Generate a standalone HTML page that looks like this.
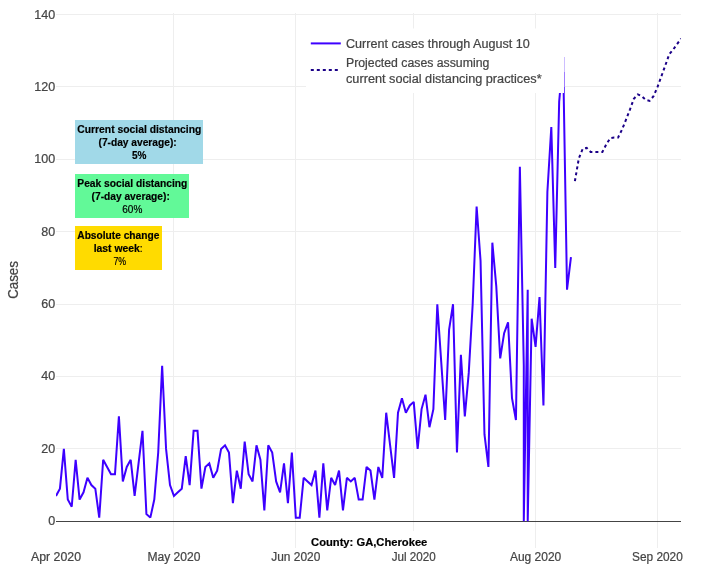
<!DOCTYPE html>
<html lang="en"><head><meta charset="utf-8"><title>County: GA,Cherokee</title>
<style>html,body{margin:0;padding:0;background:#fff}body{width:710px;height:583px;overflow:hidden}svg{display:block}text{font-family:'Liberation Sans', sans-serif;white-space:pre}.r text,text.r{stroke:#444;stroke-width:.22px;paint-order:stroke fill}.b text,text.b{stroke:#000;stroke-width:.18px;paint-order:stroke fill}</style>
</head><body>
<svg width="710" height="583" viewBox="0 0 710 583">
<rect width="710" height="583" fill="#fff"/>
<g fill="#eeeeee" shape-rendering="crispEdges">
<rect x="173" y="13" width="1" height="535"/>
<rect x="295" y="13" width="1" height="535"/>
<rect x="413" y="13" width="1" height="535"/>
<rect x="535" y="13" width="1" height="535"/>
<rect x="657" y="13" width="1" height="535"/>
<rect x="56" y="14" width="625" height="1"/>
<rect x="56" y="86" width="625" height="1"/>
<rect x="56" y="159" width="625" height="1"/>
<rect x="56" y="231" width="625" height="1"/>
<rect x="56" y="304" width="625" height="1"/>
<rect x="56" y="376" width="625" height="1"/>
<rect x="56" y="448" width="625" height="1"/>
</g>
<rect x="56" y="521" width="625" height="1" fill="#444" shape-rendering="crispEdges"/>
<defs><clipPath id="pc"><rect x="56" y="13" width="625" height="534"/></clipPath></defs>
<g clip-path="url(#pc)" fill="none" stroke-miterlimit="2">
<path d="M56.00,495.93L59.93,488.69L63.86,448.90L67.79,499.55L71.72,506.78L75.66,459.75L79.59,499.55L83.52,492.31L87.45,477.84L91.38,485.07L95.31,488.69L99.24,517.63L103.17,459.75L107.10,466.99L111.03,474.22L114.97,474.22L118.90,416.34L122.83,481.46L126.76,466.99L130.69,459.75L134.62,495.93L138.55,463.37L142.48,430.81L146.41,514.01L150.34,517.63L154.28,499.55L158.21,452.52L162.14,365.70L166.07,448.90L170.00,485.07L173.93,495.93L177.86,492.31L181.79,488.69L185.72,456.13L189.65,485.07L193.59,430.81L197.52,430.81L201.45,488.69L205.38,466.99L209.31,463.37L213.24,477.84L217.17,470.61L221.10,448.90L225.03,445.28L228.96,452.52L232.90,503.16L236.83,470.61L240.76,488.69L244.69,441.66L248.62,474.22L252.55,481.46L256.48,445.28L260.41,459.75L264.34,510.40L268.27,445.28L272.21,452.52L276.14,481.46L280.07,492.31L284.00,463.37L287.93,503.16L291.86,452.52L295.79,517.63L299.72,517.63L303.65,477.84L307.58,481.46L311.51,485.07L315.45,470.61L319.38,517.63L323.31,463.37L327.24,510.40L331.17,477.84L335.10,485.07L339.03,470.61L342.96,510.40L346.89,477.84L350.82,481.46L354.76,477.84L358.69,499.55L362.62,499.55L366.55,466.99L370.48,470.61L374.41,499.55L378.34,466.99L382.27,477.84L386.20,412.73L390.13,445.28L394.07,477.84L398.00,412.73L401.93,398.25L405.86,412.73L409.79,405.49L413.72,401.87L417.65,448.90L421.58,409.11L425.51,394.64L429.44,427.19L433.38,409.11L437.31,304.20L441.24,362.08L445.17,419.96L449.10,329.52L453.03,304.20L456.96,452.52L460.89,354.85L464.82,416.34L468.75,372.93L472.69,304.20L476.62,206.53L480.55,260.79L484.48,434.43L488.41,466.99L492.34,242.70L496.27,286.11L500.20,358.46L504.13,333.14L508.06,322.29L512.00,398.25L515.93,419.96L519.86,166.73L523.79,365.70L523.79,521.25L527.72,289.73L527.72,521.25L531.65,318.67L535.58,346.89L539.51,296.97L543.44,405.49L547.38,192.06L551.31,126.94L555.24,268.02L559.17,101.62L563.10,58.21L567.03,289.73L570.96,257.17" stroke="#3d00ff" stroke-width="2"/>
<path d="M574.89,181.20L578.82,158.41L582.75,148.65L586.69,147.92L590.62,151.90L594.55,151.90L598.48,151.90L602.41,151.90L606.34,144.31L610.27,138.16L614.20,137.43L618.13,137.43L622.06,129.47L626.00,119.71L629.93,109.58L633.86,98.73L637.79,94.38L641.72,96.19L645.65,99.81L649.58,100.90L653.51,96.19L657.44,87.15L661.37,76.30L665.31,65.44L669.24,54.23L673.17,49.53L677.10,44.10L681.03,38.68" stroke="#1b0088" stroke-width="2" stroke-dasharray="3,3"/>
</g>
<g class="r" font-size="12" fill="#444" text-anchor="end">
<text x="55.2" y="525.0" textLength="7.0" lengthAdjust="spacingAndGlyphs">0</text>
<text x="55.2" y="452.6" textLength="13.9" lengthAdjust="spacingAndGlyphs">20</text>
<text x="55.2" y="380.2" textLength="13.9" lengthAdjust="spacingAndGlyphs">40</text>
<text x="55.2" y="307.9" textLength="13.9" lengthAdjust="spacingAndGlyphs">60</text>
<text x="55.2" y="235.5" textLength="13.9" lengthAdjust="spacingAndGlyphs">80</text>
<text x="55.2" y="163.2" textLength="20.9" lengthAdjust="spacingAndGlyphs">100</text>
<text x="55.2" y="90.8" textLength="20.9" lengthAdjust="spacingAndGlyphs">120</text>
<text x="55.2" y="18.5" textLength="20.9" lengthAdjust="spacingAndGlyphs">140</text>
</g>
<g class="r" font-size="12" fill="#444" text-anchor="middle">
<text x="56.0" y="560.6" textLength="50.0" lengthAdjust="spacingAndGlyphs">Apr 2020</text>
<text x="173.9" y="560.6" textLength="53.0" lengthAdjust="spacingAndGlyphs">May 2020</text>
<text x="295.8" y="560.6" textLength="49.0" lengthAdjust="spacingAndGlyphs">Jun 2020</text>
<text x="413.7" y="560.6" textLength="44.0" lengthAdjust="spacingAndGlyphs">Jul 2020</text>
<text x="535.6" y="560.6" textLength="51.3" lengthAdjust="spacingAndGlyphs">Aug 2020</text>
<text x="657.4" y="560.6" textLength="50.7" lengthAdjust="spacingAndGlyphs">Sep 2020</text>
</g>
<text class="r" transform="translate(18.1,280) rotate(-90)" font-size="14" fill="#444" text-anchor="middle" textLength="37.7" lengthAdjust="spacingAndGlyphs">Cases</text>
<rect x="306" y="28.5" width="259" height="64.5" fill="#fff"/>
<rect x="564" y="57" width="1" height="15" fill="#cdbeff"/><rect x="564" y="72" width="1" height="15" fill="#a07dff"/><rect x="564" y="87" width="1" height="6" fill="#7346ff"/>
<path d="M310.8,43.4h30" stroke="#3d00ff" stroke-width="2" fill="none"/>
<path d="M310.8,70h30" stroke="#1b0088" stroke-width="2" stroke-dasharray="3,3" fill="none"/>
<g class="r" font-size="12" fill="#444">
<text x="346.0" y="48.0" textLength="183.7" lengthAdjust="spacingAndGlyphs">Current cases through August 10</text>
<text x="346.0" y="67.1" textLength="143.3" lengthAdjust="spacingAndGlyphs">Projected cases assuming</text>
<text x="346.0" y="82.9" textLength="195.6" lengthAdjust="spacingAndGlyphs">current social distancing practices*</text>
</g>
<rect x="75" y="120" width="128" height="44" fill="#a1d9e8"/>
<rect x="75" y="174" width="114" height="44" fill="#62f998"/>
<rect x="75" y="226" width="87" height="44" fill="#ffdb00"/>
<g class="b" font-size="10" fill="#000" text-anchor="middle" font-weight="bold">
<text x="139.3" y="132.8" textLength="124" lengthAdjust="spacingAndGlyphs">Current social distancing</text>
<text x="137.6" y="146.3" textLength="78.2" lengthAdjust="spacingAndGlyphs">(7-day average):</text>
<text x="139.3" y="159.3">5%</text>
<text x="132.3" y="186.8" textLength="110" lengthAdjust="spacingAndGlyphs">Peak social distancing</text>
<text x="130.7" y="200.3" textLength="78.2" lengthAdjust="spacingAndGlyphs">(7-day average):</text>
<text x="132.3" y="213.3" font-weight="normal">60%</text>
<text x="118.3" y="238.8" textLength="82" lengthAdjust="spacingAndGlyphs">Absolute change</text>
<text x="118.2" y="251.8" textLength="49" lengthAdjust="spacingAndGlyphs">last week<tspan font-weight="normal">:</tspan></text>
<text x="119.8" y="264.9" font-weight="normal" textLength="12.7" lengthAdjust="spacingAndGlyphs">7%</text>
</g>
<rect x="309" y="531" width="121" height="17" fill="#fff"/>
<text class="b" x="369.2" y="546.2" font-size="10" font-weight="bold" fill="#000" text-anchor="middle" textLength="116.3" lengthAdjust="spacingAndGlyphs">County: GA,Cherokee</text>
</svg>
</body></html>
